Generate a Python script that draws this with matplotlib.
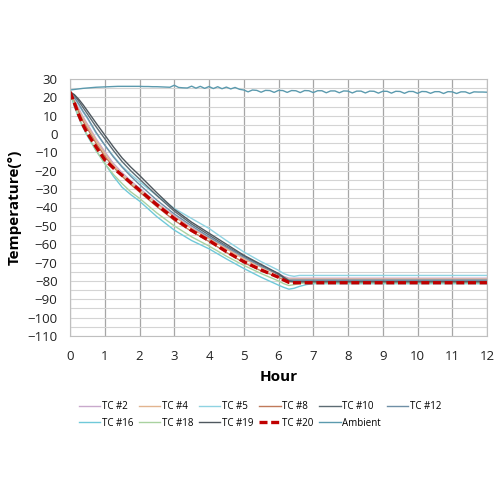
import matplotlib
matplotlib.use("Agg")
import matplotlib.pyplot as plt

plt.rcParams['font.family'] = ['Open Sans', 'DejaVu Sans']

hours = [0, 0.125, 0.25, 0.375, 0.5, 0.75, 1, 1.25, 1.5, 1.75, 2, 2.5, 3, 3.5, 4, 4.5,
         5, 5.5, 6, 6.15, 6.3, 6.45, 6.6, 6.8, 7, 8, 9, 10, 11, 12]

tc2 = [23, 18.5, 14, 9.5, 5.5, -2.5, -9.5, -16, -21, -25.5, -29.5, -37.5, -44.5, -51, -56.5, -62,
       -67.5, -72, -76, -77.5, -78.5, -78.5, -78.5, -78.5, -78.5, -78.5, -78.5, -78.5, -78.5, -78.5]
tc4 = [23, 18, 13, 8.5, 4.5, -3.5, -10.5, -17, -22, -26.5, -30.5, -38, -45, -51.5, -57, -62.5,
       -68, -72.5, -76.5, -78, -79, -79, -79, -79, -79, -79, -79, -79, -79, -79]
tc5 = [23, 20, 16, 12, 8.5, 0.5, -6, -12, -17.5, -22, -26, -33.5, -40.5, -46, -51.4, -58,
       -64.2, -69.5, -74.2, -76, -77, -77.5, -77, -77, -77, -77, -77, -77, -77, -77]
tc8 = [23, 17.5, 12, 7, 3, -5, -12, -18, -23, -27.5, -31.5, -39.5, -47, -53, -58.5, -64.5,
       -70, -74.5, -78, -79.5, -80.5, -80.5, -80.5, -80.5, -80.5, -80.5, -80.5, -80.5, -80.5, -80.5]
tc10 = [23, 21, 18, 14.5, 11, 4, -2.5, -9, -15, -20, -24.5, -33.5, -42, -49, -55, -61,
        -66.5, -71.5, -76.5, -78.5, -80, -80, -80, -80, -80, -80, -80, -80, -80, -80]
tc12 = [23, 20, 16.5, 12.5, 9, 1, -6, -12.5, -18, -23, -27.5, -36, -43.5, -50, -56, -61.5,
        -67, -72, -76, -78, -79.5, -79.5, -79.5, -79.5, -79.5, -79.5, -79.5, -79.5, -79.5, -79.5]
tc16 = [23, 15, 9, 3.5, -1, -9, -16, -23, -29, -33, -36.5, -45, -52.3, -58, -62.5, -68,
        -73.2, -78, -82.3, -83.5, -84.5, -84, -83, -82, -81.5, -81.5, -81.5, -81.5, -81.5, -81.5]
tc18 = [23, 16, 9.5, 4, -0.5, -9, -16, -22, -27, -31.5, -35, -43, -50, -56, -61, -66.5,
        -71.5, -76, -80, -81.5, -82.5, -82, -81.5, -81, -81, -81, -81, -81, -81, -81]
tc19 = [23, 21.5, 19, 16, 12.7, 6, -0.5, -7, -13, -18, -22.5, -32, -41, -48, -54, -60,
        -66, -71, -76, -78, -80, -80.5, -80.5, -80.5, -80.5, -80.5, -80.5, -80.5, -80.5, -80.5]
tc20 = [23, 17, 10.5, 5, 0.5, -7, -14, -18.5, -22.5, -26.5, -30.5, -38.5, -46, -52.5, -58, -64,
        -69.5, -74, -78, -79.5, -80.8, -81, -81, -81, -81, -81, -81, -81, -81, -81]

amb_hours = [i * 0.125 for i in range(97)]
ambient = [24.0, 24.3, 24.6, 24.9, 25.1, 25.3, 25.5, 25.6, 25.7, 25.8, 25.9, 26.0,
           26.0, 26.0, 26.0, 26.0, 26.0, 25.9, 25.9, 25.8, 25.8, 25.7, 25.6, 25.5,
           26.6, 25.4, 25.2, 25.1, 26.1, 25.0, 26.0, 24.9, 25.9, 24.8, 25.8, 24.7,
           25.6, 24.6, 25.4, 24.4,
           24.0, 23.0, 24.0, 23.8, 22.8, 23.8, 23.7, 22.7, 23.8, 23.7, 22.7, 23.7,
           23.6, 22.6, 23.7, 23.6, 22.6, 23.6, 23.6, 22.5, 23.5, 23.5, 22.5, 23.5,
           23.4, 22.4, 23.4, 23.4, 22.4, 23.4, 23.3, 22.3, 23.3, 23.3, 22.3, 23.3,
           23.2, 22.2, 23.2, 23.2, 22.2, 23.2, 23.1, 22.2, 23.1, 23.1, 22.1, 23.1,
           23.0, 22.1, 23.0, 23.0, 22.1, 23.0, 22.9, 22.9, 22.8]

series = [
    ("TC #2", tc2, "#c9a9cc"),
    ("TC #4", tc4, "#e2b48f"),
    ("TC #5", tc5, "#8fd3e2"),
    ("TC #8", tc8, "#c07a5a"),
    ("TC #10", tc10, "#5c6b73"),
    ("TC #12", tc12, "#6f8fa6"),
    ("TC #16", tc16, "#6fc9d9"),
    ("TC #18", tc18, "#a9d2a0"),
    ("TC #19", tc19, "#4f585f"),
]

fig = plt.figure(figsize=(5, 5), dpi=100)
ax = fig.add_axes([0.14, 0.328, 0.834, 0.514])

h = {}
for name, vals, col in series:
    h[name], = ax.plot(hours, vals, color=col, lw=1.0, label=name)
h["TC #20"], = ax.plot(hours, tc20, color="#c00000", ls=(0, (2.4, 1.1)), lw=2.4, label="TC #20")
h["Ambient"], = ax.plot(amb_hours, ambient, color="#5b9aae", lw=1.0, label="Ambient")

ax.set_xlim(0, 12)
ax.set_ylim(-110, 30)
ax.set_xticks(range(0, 13))
ax.set_yticks(range(-110, 31, 10))
ax.set_yticks(range(-110, 31, 5), minor=True)
ax.tick_params(axis='both', which='both', length=0, labelsize=9.5, colors='#222222')
ax.tick_params(axis='x', pad=10)
ax.tick_params(axis='y', pad=9)
ax.grid(axis='y', which='both', color='#d4d4d4', lw=0.8)
ax.grid(axis='x', which='major', color='#a6a6a6', lw=0.9)
ax.set_axisbelow(True)
for s in ax.spines.values():
    s.set_color('#bfbfbf')
    s.set_linewidth(0.8)

ax.set_xlabel("Hour", fontsize=11, fontweight='bold', labelpad=5)
ax.set_ylabel("Temperature(°)", fontsize=11, fontweight='bold', labelpad=4)

order = ["TC #2", "TC #16", "TC #4", "TC #18", "TC #5", "TC #19",
         "TC #8", "TC #20", "TC #10", "Ambient", "TC #12"]
fig.legend([h[k] for k in order], order, loc='upper left', bbox_to_anchor=(0.14, 0.215), ncol=6,
           fontsize=7, frameon=False, handlelength=2.2, handletextpad=0.15,
           columnspacing=0.6, labelspacing=0.55)

fig.savefig("out.png", dpi=100)
